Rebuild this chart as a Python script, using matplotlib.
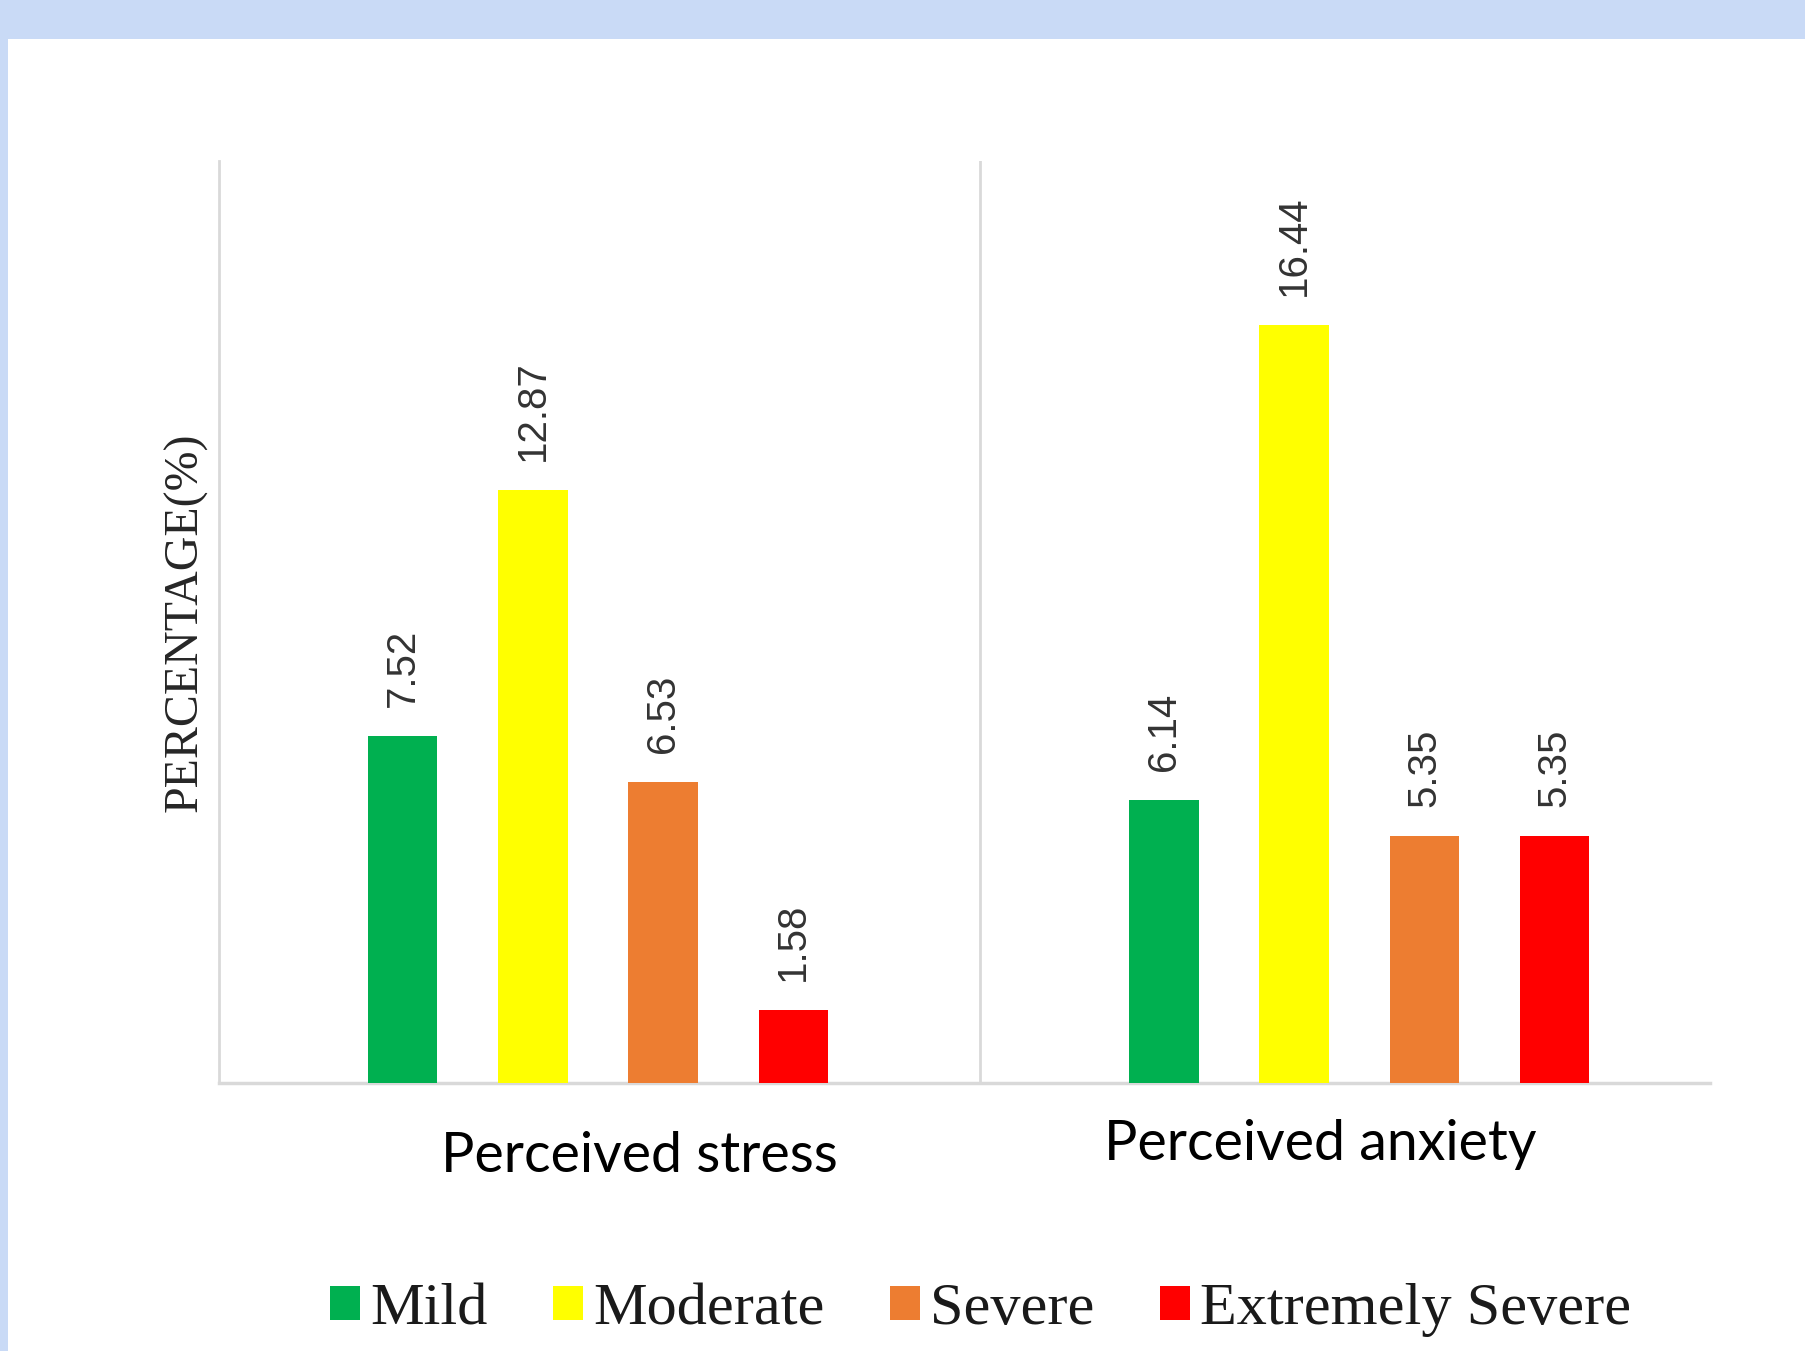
import matplotlib
matplotlib.use("Agg")
import matplotlib.pyplot as plt
from matplotlib.patches import Patch, Rectangle
from matplotlib.transforms import blended_transform_factory

# data
groups = ["Perceived stress", "Perceived anxiety"]
levels = ["Mild", "Moderate", "Severe", "Extremely Severe"]
stress_vals = [7.52, 12.87, 6.53, 1.58]
anxiety_vals = [6.14, 16.44, 5.35, 5.35]
level_colors = ["#00B050", "#FFFF00", "#ED7D31", "#FF0000"]

fig = plt.figure(figsize=(18.06, 13.51), dpi=100)
fig.patch.set_facecolor("white")

# light blue frame at top and left
fig.patches.append(Rectangle((0, 1 - 39 / 1351), 1, 39 / 1351, transform=fig.transFigure,
                             facecolor="#C9DAF6", edgecolor="none", zorder=0))
fig.patches.append(Rectangle((0, 0), 8 / 1806, 1, transform=fig.transFigure,
                             facecolor="#C9DAF6", edgecolor="none", zorder=0))

ax = fig.add_axes([219 / 1806, 1 - 1083 / 1351, (1710 - 219) / 1806, (1083 - 161) / 1351])

step = 0.171
width = 0.091
offsets = [-1.5 * step, -0.5 * step, 0.5 * step, 1.5 * step]
series = [stress_vals, anxiety_vals]

for gi, vals in enumerate(series):
    for li, v in enumerate(vals):
        x = gi + offsets[li]
        ax.bar(x, v, width=width, color=level_colors[li], zorder=3)
        ax.annotate(f"{v:.2f}", (x, v), xytext=(0, 21), textcoords="offset points",
                    rotation=90, ha="center", va="bottom", fontsize=29,
                    family="Liberation Sans", color="#333333")

ax.set_xlim(-0.498, 1.461)
ax.set_ylim(0, 20)
ax.set_xticks([])
ax.set_yticks([])

for s in ["top", "right"]:
    ax.spines[s].set_visible(False)
ax.spines["left"].set_color("#d9d9d9")
ax.spines["bottom"].set_color("#d9d9d9")
ax.spines["left"].set_linewidth(2)
ax.spines["bottom"].set_linewidth(2.5)
ax.axvline(0.502, color="#d9d9d9", linewidth=2, zorder=1)

ax.set_ylabel("PERCENTAGE(%)", family="Liberation Serif", fontsize=34.5,
              color="#262626", labelpad=8)

trans = blended_transform_factory(ax.transData, fig.transFigure)
ax.text(0.054, 0.144, groups[0], transform=trans, ha="center", va="center",
        fontsize=40, family="Lato", color="black")
ax.text(0.949, 0.153, groups[1], transform=trans, ha="center", va="center",
        fontsize=40, family="Lato", color="black")

handles = [Patch(facecolor=c, edgecolor="none", label=l) for c, l in zip(level_colors, levels)]
fig.legend(handles=handles, loc="center", bbox_to_anchor=(0.543, 0.030), ncol=4,
           frameon=False, prop={"family": "Liberation Serif", "size": 43.5},
           handlelength=0.5, handleheight=0.5, handletextpad=0.17, columnspacing=1.08,
           borderpad=0, labelcolor="#1a1a1a")

fig.savefig("out.png", dpi=100, facecolor=fig.get_facecolor())
